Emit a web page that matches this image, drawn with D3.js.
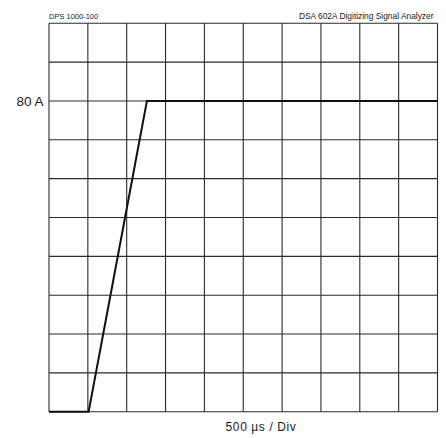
<!DOCTYPE html>
<html>
<head>
<meta charset="utf-8">
<script src="https://cdn.jsdelivr.net/npm/d3@7"></script>
<style>
  body { margin: 0; background: #fff; }
  text { font-family: "Liberation Sans", Arial, sans-serif; fill: #1a1a1a; }
</style>
</head>
<body>
<script>
const w = 446
const h = 438
const gridLeft = 49, gridRight = 437.5, gridTop = 23.3, gridBottom = 411.7

// time in µs, 500 µs per division
const timeTicks = [0, 500, 1000, 1500, 2000, 2500, 3000, 3500, 4000, 4500, 5000]
// current in A, 10 A per division
const currentTicks = [0, 10, 20, 30, 40, 50, 60, 70, 80, 90, 100]

// trace
const traceTime = [0, 510, 1260, 5000]
const traceCurrent = [0, 0, 80, 80]

const yLabels = [80]
const yLabelText = ['80 A']
const titleLeft = 'DPS 1000-100'
const titleRight = 'DSA 602A Digitizing Signal Analyzer'
const xLabel = '500 µs / Div'

const xScale = d3.scaleLinear().domain([0, 5000]).range([gridLeft, gridRight])
const yScale = d3.scaleLinear().domain([0, 100]).range([gridBottom, gridTop])

const svg = d3.select('body').append('svg')
    .attr('width', w)
    .attr('height', h)

// grid
svg.append('g').selectAll('line')
    .data(timeTicks)
    .enter().append('line')
    .attr('x1', d => xScale(d)).attr('x2', d => xScale(d))
    .attr('y1', gridTop).attr('y2', gridBottom)
    .attr('stroke', '#2a2a2a')
    .attr('stroke-width', 1.1)

svg.append('g').selectAll('line')
    .data(currentTicks)
    .enter().append('line')
    .attr('y1', d => yScale(d)).attr('y2', d => yScale(d))
    .attr('x1', gridLeft).attr('x2', gridRight)
    .attr('stroke', '#2a2a2a')
    .attr('stroke-width', 1.1)

// the trace
const points = traceTime.map((t, i) => [t, traceCurrent[i]])
const lineFun = d3.line()
    .x(d => xScale(d[0]))
    .y(d => yScale(d[1]))

svg.append('path')
    .attr('d', lineFun(points))
    .attr('fill', 'none')
    .attr('stroke', '#111')
    .attr('stroke-width', 2)

// labels
svg.append('g').selectAll('text')
    .data(yLabels)
    .enter().append('text')
    .attr('x', gridLeft - 5.5)
    .attr('y', d => yScale(d) + 5)
    .attr('text-anchor', 'end')
    .attr('font-size', 13.5)
    .text((d, i) => yLabelText[i])

svg.append('text')
    .attr('x', gridLeft)
    .attr('y', 19)
    .attr('font-size', 7.5)
    .text(titleLeft)

svg.append('text')
    .attr('x', 433.5)
    .attr('y', 19)
    .attr('text-anchor', 'end')
    .attr('font-size', 8.4)
    .text(titleRight)

svg.append('text')
    .attr('x', 261)
    .attr('y', 431)
    .attr('text-anchor', 'middle')
    .attr('font-size', 12)
    .attr('letter-spacing', 0.6)
    .text(xLabel)
</script>
</body>
</html>
